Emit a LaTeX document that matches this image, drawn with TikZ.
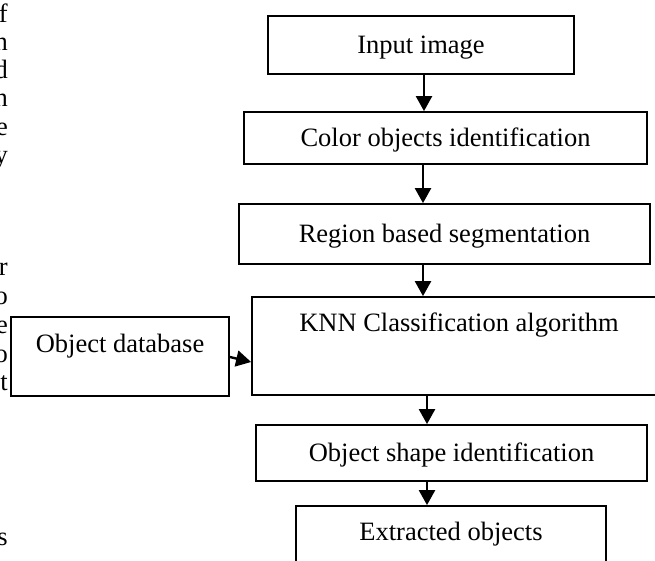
\documentclass[tikz,border=0pt]{standalone}
\usepackage{fontspec}
\setmainfont{Liberation Serif}
\usetikzlibrary{arrows.meta,calc}
\begin{document}
\begin{tikzpicture}[x=1pt,y=-1pt,
  every node/.style={font=\fontsize{26.5pt}{30pt}\selectfont},
  box/.style={draw, line width=1.8pt, inner sep=0pt, align=center},
  arr/.style={line width=2.4pt, -{Triangle[width=16pt,length=15pt]}},
  frag/.style={anchor=base east, inner sep=0pt}]
\useasboundingbox (0,0) rectangle (655,560);
\clip (0,0) rectangle (655,560);
% boxes
\node[box, minimum width=306pt, text height=37.75pt, text depth=20.25pt] (input) at (421,45) {Input image};
\node[box, minimum width=403pt, text height=34.75pt, text depth=17.25pt] (color) at (445.5,138) {Color objects identification};
\node[box, minimum width=411pt, text height=38.75pt, text depth=21.25pt] (region) at (444.5,234) {Region based segmentation};
\node[box, minimum width=414pt, text height=34pt, text depth=64pt] (knn) at (459,346) {KNN Classification algorithm};
\node[box, minimum width=218pt, text height=35pt, text depth=44pt] (db) at (120,356.5) {Object database};
\node[box, minimum width=391pt, text height=36.75pt, text depth=19.25pt] (shape) at (451.5,453) {Object shape identification};
\node[box, minimum width=310pt, text height=34pt, text depth=60pt] (extr) at (451,553) {Extracted objects};
% connectors
\draw[arr] ($(input.south)+(3,0)$) -- ($(color.north)+(-21.5,0)$);
\draw[arr] ($(color.south)+(-22.5,0)$) -- ($(region.north)+(-21.5,0)$);
\draw[arr] ($(region.south)+(-21.5,0)$) -- ($(knn.north)+(-36,0)$);
\draw[arr] ($(knn.south)+(-32,0)$) -- ($(shape.north)+(-24.5,0)$);
\draw[arr] ($(shape.south)+(-24.5,0)$) -- ($(extr.north)+(-24,0)$);
\draw[arr] ($(db.east)+(0,0.5)$) -- ($(knn.west)+(0,16)$);
% text fragments at the left margin
\node[frag] (l1) at (8,22) {f};
\node[frag] (l2) at (8,50) {n};
\node[frag] (l3) at (8,78) {d};
\node[frag] (l4) at (8,106) {n};
\node[frag] (l5) at (8,135) {e};
\node[frag] (l6) at (8,163) {y};
\node[frag] (l7) at (8,275) {r};
\node[frag] (l8) at (8,304) {o};
\node[frag] (l9) at (8,333) {e};
\node[frag] (l10) at (8,362) {o};
\node[frag] (l11) at (8,390) {t};
\node[frag] (l12) at (8,545) {s};
\end{tikzpicture}
\end{document}
